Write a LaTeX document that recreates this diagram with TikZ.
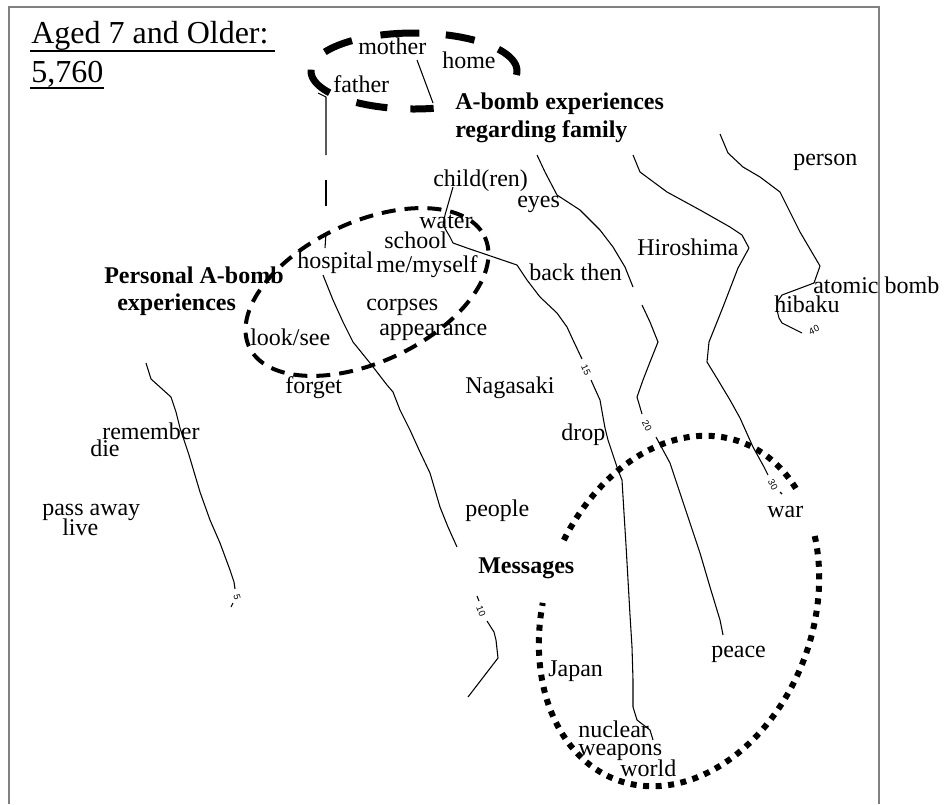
\documentclass[tikz,border=0pt]{standalone}
\usepackage{fontspec}
\setmainfont{Liberation Serif}
\newfontfamily\lblfont{Liberation Sans}
\begin{document}
\begin{tikzpicture}[x=0.75pt,y=-0.75pt,
  word/.style={anchor=base west, inner sep=0pt, font=\fontsize{18}{21}\selectfont},
  group/.style={anchor=base west, inner sep=0pt, font=\fontsize{18}{21}\selectfont\bfseries},
  title/.style={anchor=base west, inner sep=0pt, font=\fontsize{24}{28}\selectfont},
  contour/.style={line width=0.8pt, line join=round},
  clabel/.style={inner sep=0pt, font=\lblfont\fontsize{7}{8}\selectfont},
  famring/.style={line width=5.25pt},
  selfring/.style={line width=3pt, dash pattern=on 10.5pt off 6.75pt},
  msgring/.style={line width=4.5pt, dash pattern=on 4.5pt off 4.9pt},
  frame/.style={draw=gray, line width=1pt},
]
\useasboundingbox (0,0) rectangle (946,804);

% plot frame (open at the bottom)
\draw[frame] (9,804) -- (9,7) -- (879,7) -- (879,804);

% heading
\node[title] (head1) at (31,43) {Aged 7 and Older:};
\node[title] (head2) at (31,82) {5,760};
\draw[line width=1.5pt] (30,51) -- (275,51);
\draw[line width=1.5pt] (30,88) -- (104,88);

% contour lines
\draw[contour] (146,363) -- (151,379) -- (171,397) -- (176,412) -- (180,428) -- (189,455)
  -- (200,492) -- (210,520) -- (220,543) -- (230,570) -- (234,582) -- (235,589);
\node[clabel, rotate=-75] (c5) at (237,597) {5};
\draw[contour] (233,603) -- (231,607);

\draw[contour] (318,93) -- (326,97) -- (326,155);
\draw[contour] (326,180) -- (326,206);
\draw[contour] (326,233) -- (325,248);
\draw[contour] (323,275) -- (333,300) -- (343,322) -- (353,342) -- (370,363) -- (387,385)
  -- (393,392) -- (400,410) -- (410,430) -- (420,452) -- (430,473) -- (435,490)
  -- (440,507) -- (448,527) -- (457,547);
\draw[contour] (477,596) -- (479,601);
\node[clabel, rotate=-68] (c10) at (481,611) {10};
\draw[contour] (487,621) -- (494,632) -- (496,640) -- (498,658) -- (468,697);

\draw[contour] (453,187) -- (445,215) -- (443,225) -- (450,237) -- (453,243) -- (467,248)
  -- (517,265) -- (527,280) -- (540,297) -- (557,313) -- (567,327) -- (573,340) -- (582,359);
\node[clabel, rotate=-65] (c15) at (586,370) {15};
\draw[contour] (591,380) -- (600,400) -- (603,417) -- (605,428) -- (608,440) -- (613,455)
  -- (618,470) -- (622,480) -- (624,513) -- (626,545) -- (628,580) -- (630,615)
  -- (632,647) -- (633,680) -- (633,707) -- (637,720) -- (650,730) -- (653,740);

\draw[contour] (537,155) -- (545,172) -- (557,195) -- (580,210) -- (600,230) -- (613,247)
  -- (625,267) -- (633,287);
\draw[contour] (642,305) -- (650,322) -- (658,342) -- (650,362) -- (643,380) -- (637,397)
  -- (642,414);
\node[clabel, rotate=-62] (c20) at (647,426) {20};
\draw[contour] (656,437) -- (663,450) -- (670,463) -- (680,493) -- (690,523) -- (700,553)
  -- (710,587) -- (720,620) -- (723,635);

\draw[contour] (633,155) -- (640,172) -- (667,192) -- (700,210) -- (730,227) -- (742,235)
  -- (749,248) -- (738,268) -- (723,307) -- (709,342) -- (707,362) -- (718,380)
  -- (730,400) -- (740,418) -- (753,447) -- (764,467) -- (768,475);
\node[clabel, rotate=-62] (c30) at (773,485) {30};
\draw[contour] (780,492) -- (782,494);

\draw[contour] (720,134) -- (728,153) -- (743,167) -- (760,177) -- (780,192) -- (800,232)
  -- (820,266) -- (814,283) -- (782,295) -- (778,301) -- (777,310) -- (779,318)
  -- (782,323) -- (802,333);
\node[clabel, rotate=25] (c40) at (814,330) {40};

\draw[contour] (417,60) -- (433,103);

% group outlines: family ring drawn dash by dash
\foreach \a/\b in {79/92, 105/124, 145/182, 210/233, 251/273, 288/306, 325/366}
  \draw[famring] plot[domain=\a:\b, samples=20, smooth]
    ({414+103*cos(\x)}, {71+38*sin(\x)});
\draw[selfring] plot[domain=0:360, samples=160, smooth]
  ({367+130*cos(\x)*cos(25)+70*sin(\x)*sin(25)}, {292-130*cos(\x)*sin(25)+70*sin(\x)*cos(25)}) -- cycle;
\draw[msgring] plot[domain=-40.5:167.5, samples=140, smooth]
  ({679+134*cos(\x)*cos(20)-180*sin(\x)*sin(20)}, {611+134*cos(\x)*sin(20)+180*sin(\x)*cos(20)});
\draw[msgring] plot[domain=188.7:301.5, samples=80, smooth]
  ({679+134*cos(\x)*cos(20)-180*sin(\x)*sin(20)}, {611+134*cos(\x)*sin(20)+180*sin(\x)*cos(20)});

% word labels
\node[word] (mother) at (358,54) {mother};
\node[word] (home) at (442,68) {home};
\node[word] (father) at (333,92) {father};
\node[group] (fam1) at (455,109) {A-bomb experiences};
\node[group] (fam2) at (455,137) {regarding family};
\node[word] (person) at (793,165) {person};
\node[word] (child) at (433,186) {child(ren)};
\node[word] (eyes) at (517,207) {eyes};
\node[word] (water) at (419,228) {water};
\node[word] (school) at (384,248) {school};
\node[word] (hiroshima) at (637,255) {Hiroshima};
\node[word] (hospital) at (297,268) {hospital};
\node[word] (me) at (376,272) {me/myself};
\node[word] (backthen) at (529,280) {back then};
\node[group] (self1) at (104,283) {Personal A-bomb};
\node[group] (self2) at (117,310) {experiences};
\node[word] (atomic) at (813,293) {atomic bomb};
\node[word] (hibaku) at (774,312) {hibaku};
\node[word] (corpses) at (366,310) {corpses};
\node[word] (appearance) at (379,335) {appearance};
\node[word] (look) at (250,345) {look/see};
\node[word] (forget) at (285,393) {forget};
\node[word] (nagasaki) at (465,393) {Nagasaki};
\node[word] (remember) at (102,439) {remember};
\node[word] (drop) at (561,440) {drop};
\node[word] (die) at (90,456) {die};
\node[word] (passaway) at (42,515) {pass away};
\node[word] (live) at (62,535) {live};
\node[word] (people) at (465,516) {people};
\node[word] (war) at (767,517) {war};
\node[group] (messages) at (478,573) {Messages};
\node[word] (peace) at (711,657) {peace};
\node[word] (japan) at (548,676) {Japan};
\node[word] (nuclear) at (578,737) {nuclear};
\node[word] (weapons) at (578,755) {weapons};
\node[word] (world) at (620,776) {world};
\end{tikzpicture}
\end{document}
